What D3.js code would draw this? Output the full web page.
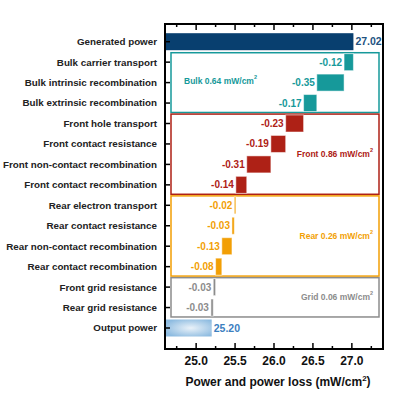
<!DOCTYPE html>
<html>
<head>
<meta charset="utf-8">
<script src="https://cdn.jsdelivr.net/npm/d3@7"></script>
<style>
  body { margin: 0; background: #fff; }
  svg text { font-family: "Liberation Sans", Arial, sans-serif; font-weight: bold; }
</style>
</head>
<body>
<svg id="chart" width="394" height="413"></svg>
<script>
// chart data
const categories = [
  "Generated power", "Bulk carrier transport", "Bulk intrinsic recombination",
  "Bulk extrinsic recombination", "Front hole transport", "Front contact resistance",
  "Front non-contact recombination", "Front contact recombination", "Rear electron transport",
  "Rear contact resistance", "Rear non-contact recombination", "Rear contact recombination",
  "Front grid resistance", "Rear grid resistance", "Output power"
];
const generatedPower = 27.02;
const outputPower = 25.20;
const losses = [null, -0.12, -0.35, -0.17, -0.23, -0.19, -0.31, -0.14, -0.02, -0.03, -0.13, -0.08, -0.03, -0.03, null];
const lossGroup = [null, "Bulk", "Bulk", "Bulk", "Front", "Front", "Front", "Front", "Rear", "Rear", "Rear", "Rear", "Grid", "Grid", null];

const groupNames = ["Bulk", "Front", "Rear", "Grid"];
const groupTotals = [0.64, 0.86, 0.26, 0.06];
const groupFirst = ["Bulk carrier transport", "Front hole transport", "Rear electron transport", "Front grid resistance"];
const groupLast = ["Bulk extrinsic recombination", "Front contact recombination", "Rear contact recombination", "Rear grid resistance"];

const xTicks = [25.0, 25.5, 26.0, 26.5, 27.0];
const xMinorTicks = [24.75, 25.25, 25.75, 26.25, 26.75, 27.25];

const colors = { Bulk: "#16999a", Front: "#ae2116", Rear: "#f29f05", Grid: "#8c8c8c" };

const svg = d3.select("#chart");
const plotLeft = 165, plotRight = 383, plotTop = 24, plotBottom = 349;

const x = d3.scaleLinear().domain([24.6, 27.4]).range([plotLeft, plotRight]);
const y = d3.scalePoint().domain(categories).range([41.7, 328]);
const step = y.step();
const barH = 17;

// gradient for output bar
const defs = svg.append("defs");
const grad = defs.append("radialGradient").attr("id", "outGrad")
  .attr("cx", "55%").attr("cy", "50%").attr("r", "60%");
grad.append("stop").attr("offset", "0%").attr("stop-color", "#eaf2f9");
grad.append("stop").attr("offset", "100%").attr("stop-color", "#8dbbe0");

// group boxes
groupNames.forEach((g, i) => {
  const y0 = y(groupFirst[i]) - step / 2 + 0.8;
  const y1 = y(groupLast[i]) + step / 2 - 0.8;
  svg.append("rect")
    .attr("x", 171).attr("y", y0)
    .attr("width", 208).attr("height", y1 - y0)
    .attr("fill", "none")
    .attr("stroke", colors[g])
    .attr("stroke-width", 1.5);

  const label = svg.append("text")
    .attr("fill", colors[g])
    .attr("font-size", "8.5px")
    .attr("dy", "0.35em");
  if (g === "Bulk") {
    label.attr("x", 184).attr("y", (y0 + y1) / 2 - 2).attr("text-anchor", "start");
  } else {
    label.attr("x", 373).attr("y", (y0 + y1) / 2).attr("text-anchor", "end");
  }
  label.append("tspan").text(`${g} ${groupTotals[i].toFixed(2)} mW/cm`);
  label.append("tspan").attr("font-size", "5.5px").attr("dy", "-0.9em").text("2");
});

// generated power bar
svg.append("rect")
  .attr("x", x(24.6)).attr("y", y(categories[0]) - barH / 2)
  .attr("width", x(generatedPower) - x(24.6)).attr("height", barH)
  .attr("fill", "#083f6f");
svg.append("text")
  .attr("x", x(generatedPower) + 2).attr("y", y(categories[0]))
  .attr("dy", "0.35em").attr("font-size", "10.5px")
  .attr("fill", "#22527f")
  .text(generatedPower.toFixed(2));

// loss bars (waterfall)
let running = generatedPower;
losses.forEach((v, i) => {
  if (v === null) return;
  const next = running + v;
  const c = colors[lossGroup[i]];
  svg.append("rect")
    .attr("x", x(next)).attr("y", y(categories[i]) - barH / 2)
    .attr("width", Math.max(x(running) - x(next), 1.5)).attr("height", barH)
    .attr("fill", c)
    .attr("stroke", "#fff").attr("stroke-opacity", 0.5).attr("stroke-width", 1);
  svg.append("text")
    .attr("x", x(next) - 2).attr("y", y(categories[i]))
    .attr("dy", "0.35em").attr("text-anchor", "end")
    .attr("font-size", "10px")
    .attr("fill", c)
    .text(v.toFixed(2));
  running = next;
});

// output power bar
const lastCat = categories[categories.length - 1];
svg.append("rect")
  .attr("x", x(24.6)).attr("y", y(lastCat) - barH / 2)
  .attr("width", x(outputPower) - x(24.6)).attr("height", barH)
  .attr("fill", "url(#outGrad)");
svg.append("text")
  .attr("x", x(outputPower) + 2).attr("y", y(lastCat))
  .attr("dy", "0.35em").attr("font-size", "10.5px")
  .attr("fill", "#3c80bf")
  .text(outputPower.toFixed(2));

// axes frame
const frame = svg.append("g").attr("stroke", "#000").attr("stroke-width", 2);
frame.append("line").attr("x1", plotLeft).attr("x2", plotLeft).attr("y1", plotTop).attr("y2", plotBottom);
frame.append("line").attr("x1", plotRight).attr("x2", plotRight).attr("y1", plotTop).attr("y2", plotBottom);
frame.append("line").attr("x1", plotLeft - 1).attr("x2", plotRight + 1).attr("y1", plotTop).attr("y2", plotTop);
frame.append("line").attr("x1", plotLeft - 1).attr("x2", plotRight + 1).attr("y1", plotBottom).attr("y2", plotBottom);

// ticks (inward)
const tickG = svg.append("g").attr("stroke", "#000").attr("stroke-width", 1.5);
xTicks.forEach(t => {
  tickG.append("line").attr("x1", x(t)).attr("x2", x(t)).attr("y1", plotBottom).attr("y2", plotBottom - 6);
  tickG.append("line").attr("x1", x(t)).attr("x2", x(t)).attr("y1", plotTop).attr("y2", plotTop + 6);
});
xMinorTicks.forEach(t => {
  tickG.append("line").attr("x1", x(t)).attr("x2", x(t)).attr("y1", plotBottom).attr("y2", plotBottom - 3);
  tickG.append("line").attr("x1", x(t)).attr("x2", x(t)).attr("y1", plotTop).attr("y2", plotTop + 3);
});
categories.forEach(c => {
  tickG.append("line").attr("x1", plotLeft).attr("x2", plotLeft + 5).attr("y1", y(c)).attr("y2", y(c));
});

// tick labels
svg.append("g").selectAll("text")
  .data(xTicks)
  .join("text")
  .attr("x", d => x(d)).attr("y", 365)
  .attr("text-anchor", "middle")
  .attr("font-size", "12px")
  .attr("fill", "#111")
  .text(d => d.toFixed(1));

svg.append("g").selectAll("text")
  .data(categories)
  .join("text")
  .attr("x", 157).attr("y", d => y(d))
  .attr("dy", "0.35em")
  .attr("text-anchor", "end")
  .attr("font-size", "9.8px")
  .attr("fill", "#222")
  .text(d => d);

// axis title
const title = svg.append("text")
  .attr("x", 278).attr("y", 386)
  .attr("text-anchor", "middle")
  .attr("font-size", "12px")
  .attr("fill", "#111");
title.append("tspan").text("Power and power loss (mW/cm");
title.append("tspan").attr("font-size", "8px").attr("dy", "-0.6em").text("2");
title.append("tspan").attr("dy", "0.35em").text(")");
</script>
</body>
</html>
